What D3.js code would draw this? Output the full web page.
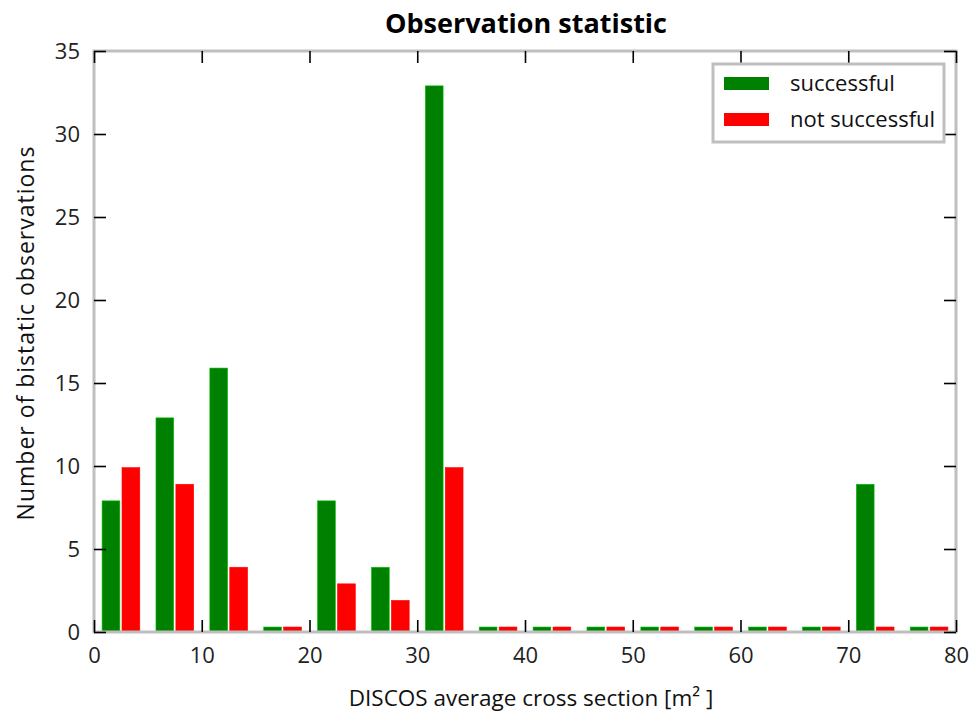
<!DOCTYPE html>
<html>
<head>
	<title>Observation statistic</title>
</head>
<style type="text/css">
	html, body {margin:0px; padding:0px; background:#fff;}
	svg {display:block; font-family: "Open Sans", "DejaVu Sans", sans-serif;}
</style>
<body>

	<svg width="972" height="714"></svg>

<script src="https://d3js.org/d3.v7.min.js"></script>
<script type="text/javascript">

	// bins of 5 m^2, left edges
	const binStarts = [0, 5, 10, 15, 20, 25, 30, 35, 40, 45, 50, 55, 60, 65, 70, 75];
	const successful = [7.9, 12.9, 15.9, 0.3, 7.9, 3.9, 32.9, 0.3, 0.3, 0.3, 0.3, 0.3, 0.3, 0.3, 8.9, 0.3];
	const notSuccessful = [9.9, 8.9, 3.9, 0.3, 2.9, 1.9, 9.9, 0.3, 0.3, 0.3, 0.3, 0.3, 0.3, 0.3, 0.3, 0.3];
	const seriesNames = ['successful', 'not successful'];
	const seriesCols = ['#008000', '#ff0000'];
	const xTicks = [0, 10, 20, 30, 40, 50, 60, 70, 80];
	const yTicks = [0, 5, 10, 15, 20, 25, 30, 35];

	const svg = d3.select('svg');
	const pLeft = 94, pRight = 956, pTop = 51, pBottom = 632;

	let x = d3.scaleLinear().domain([0, 80]).range([pLeft, pRight]);
	let y = d3.scaleLinear().domain([0, 35]).range([pBottom, pTop]);

	const barW = 1.65; // in data units
	const series = [successful, notSuccessful];

	series.forEach(function(vals, s) {
		svg.append('g').selectAll('rect')
			.data(vals)
			.enter().append('rect')
			.attr('x', function(d, i) { return x(binStarts[i] + 0.75 + s * 1.85); })
			.attr('width', x(barW) - x(0))
			.attr('y', function(d) { return y(d); })
			.attr('height', function(d) { return y(0) - y(d); })
			.attr('fill', seriesCols[s])
			.attr('stroke', d3.color(seriesCols[s]).brighter(1.2))
			.attr('stroke-width', 0.6);
	});

	// frame
	svg.append('rect')
		.attr('x', pLeft).attr('y', pTop)
		.attr('width', pRight - pLeft).attr('height', pBottom - pTop)
		.attr('fill', 'none')
		.attr('stroke', '#bfbfbf')
		.attr('stroke-width', 3);

	// ticks, inside, on all four sides
	const tl = 12;
	svg.append('g').attr('transform', 'translate(0,' + pBottom + ')')
		.call(d3.axisBottom(x).tickValues(xTicks).tickSize(-tl).tickPadding(15).tickFormat(d3.format('d')))
		.call(function(g) { g.select('.domain').remove(); });
	svg.append('g').attr('transform', 'translate(0,' + pTop + ')')
		.call(d3.axisTop(x).tickValues(xTicks).tickSize(-tl).tickFormat(''))
		.call(function(g) { g.select('.domain').remove(); });
	svg.append('g').attr('transform', 'translate(' + pLeft + ',0)')
		.call(d3.axisLeft(y).tickValues(yTicks).tickSize(-tl).tickPadding(14))
		.call(function(g) { g.select('.domain').remove(); });
	svg.append('g').attr('transform', 'translate(' + pRight + ',0)')
		.call(d3.axisRight(y).tickValues(yTicks).tickSize(-tl).tickFormat(''))
		.call(function(g) { g.select('.domain').remove(); });

	svg.selectAll('.tick line').attr('stroke', '#000').attr('stroke-width', 1.6);
	svg.selectAll('.tick text')
		.attr('font-family', '"Open Sans", "DejaVu Sans", sans-serif')
		.attr('font-size', 22)
		.attr('fill', '#222');

	// title and axis labels
	svg.append('text')
		.attr('x', 526).attr('y', 33)
		.attr('text-anchor', 'middle')
		.attr('font-size', 27).attr('font-weight', 'bold')
		.text('Observation statistic');

	svg.append('text')
		.attr('x', 531).attr('y', 706)
		.attr('text-anchor', 'middle')
		.attr('font-size', 22.5).attr('fill', '#111')
		.text('DISCOS average cross section [m² ]');

	svg.append('text')
		.attr('transform', 'translate(34,333) rotate(-90)')
		.attr('text-anchor', 'middle')
		.attr('font-size', 23).attr('fill', '#111')
		.attr('letter-spacing', 1)
		.text('Number of bistatic observations');

	// legend
	const lg = svg.append('g').attr('transform', 'translate(713,64)');
	lg.append('rect')
		.attr('width', 231).attr('height', 78)
		.attr('fill', '#fff')
		.attr('stroke', '#bfbfbf').attr('stroke-width', 3);
	seriesNames.forEach(function(name, i) {
		lg.append('rect')
			.attr('x', 11).attr('y', 13 + i * 36)
			.attr('width', 45).attr('height', 13)
			.attr('fill', seriesCols[i]);
		lg.append('text')
			.attr('x', 77).attr('y', 27 + i * 36)
			.attr('font-size', 22).attr('fill', '#111')
			.text(name);
	});

</script>
</body>
</html>
